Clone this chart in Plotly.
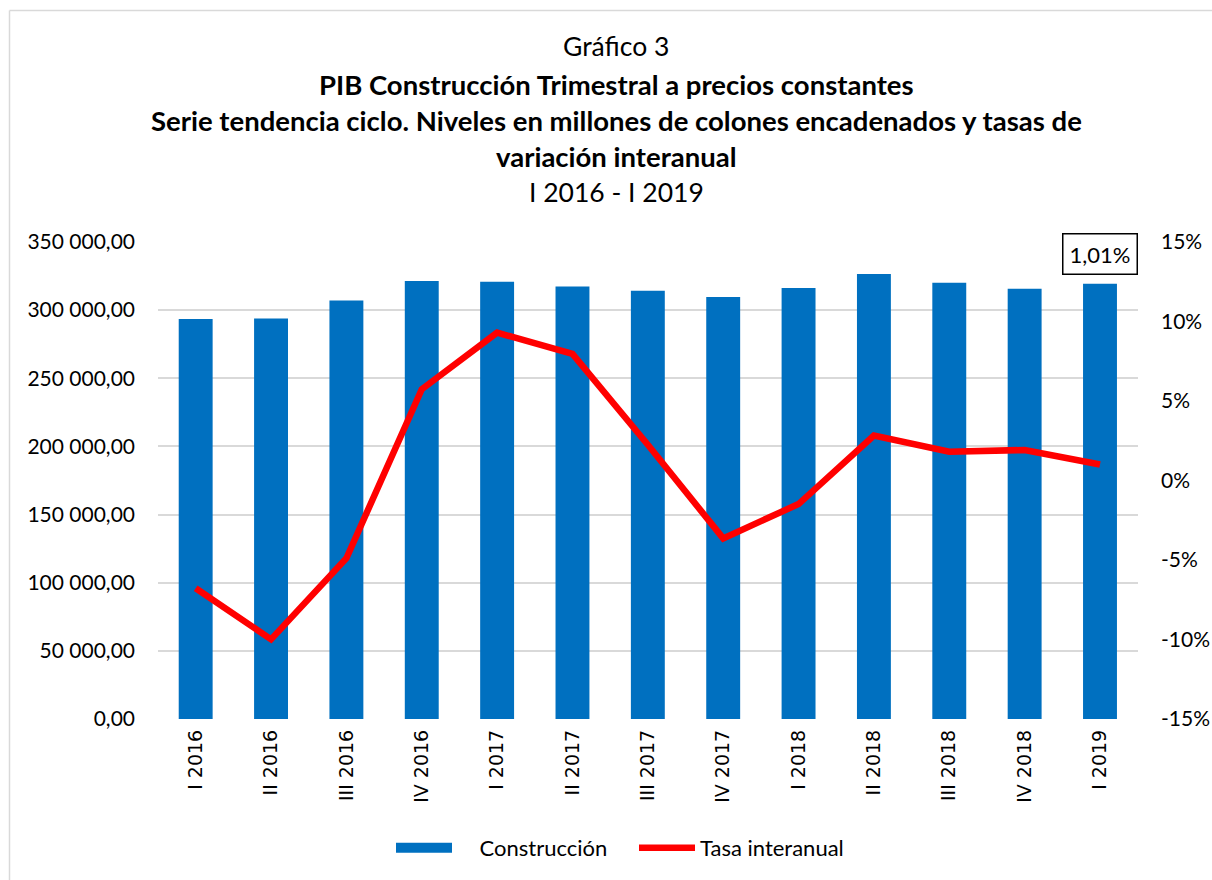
import plotly.graph_objects as go

categorias = ["I 2016", "II 2016", "III 2016", "IV 2016",
              "I 2017", "II 2017", "III 2017", "IV 2017",
              "I 2018", "II 2018", "III 2018", "IV 2018", "I 2019"]
construccion = [293500, 293950, 307150, 321400,
                320870, 317430, 314270, 309640,
                316250, 326520, 320140, 315730, 319400]
tasa_interanual = [-6.78, -9.99, -4.89, 5.74,
                   9.30, 7.96, 2.25, -3.64,
                   -1.48, 2.83, 1.81, 1.92, 1.01]
izq_ticks = [0, 50000, 100000, 150000, 200000, 250000, 300000, 350000]
der_ticks = [-15, -10, -5, 0, 5, 10, 15]
der_labels = ["-15%", "-10%", "-5%", "0%", "5%", "10%", "15%"]

titulo = [
    ("Gráfico 3", False),
    ("PIB Construcción Trimestral a precios constantes", True),
    ("Serie tendencia ciclo. Niveles en millones de colones encadenados y tasas de", True),
    ("variación interanual", True),
    ("I 2016 - I 2019", False),
]

W, H = 1212, 880
L, R, T, B = 158, 74, 242, 161
PW = W - L - R
PH = H - T - B
FONT = "Lato"
AZUL = "#0070C0"
ROJO = "#FF0000"

fig = go.Figure()
fig.add_trace(go.Bar(
    x=categorias, y=construccion, name="Construcción",
    marker=dict(color=AZUL, line=dict(width=0)),
    yaxis="y", showlegend=False, legendgroup="c",
))
# legend-only entry so the swatch is a wide rectangle like the reference
fig.add_trace(go.Scatter(
    x=[None], y=[None], name="\u00a0\u00a0\u00a0\u00a0Construcción",
    mode="lines", line=dict(color=AZUL, width=14),
    legendgroup="c", hoverinfo="skip",
))
fig.add_trace(go.Scatter(
    x=categorias, y=tasa_interanual, name="Tasa interanual",
    mode="lines", line=dict(color=ROJO, width=6.5),
    yaxis="y2",
))

title_y_px = [46, 84, 121, 157, 192]
ann = []
for (txt, bold), ypx in zip(titulo, title_y_px):
    ann.append(dict(
        text=f"<b>{txt}</b>" if bold else txt,
        xref="paper", yref="paper", x=(W / 2 + 10 - L) / PW,
        y=(H - B - ypx) / PH, xanchor="center", yanchor="middle",
        showarrow=False,
        font=dict(family=FONT, size=27.5 if bold else 26.5, color="#000000"),
    ))
ultimo = tasa_interanual[-1]
ann.append(dict(
    text=f"{ultimo:.2f}".replace(".", ",") + "%",
    x=categorias[-1], y=14.25, xref="x", yref="y2",
    showarrow=False, font=dict(family=FONT, size=22, color="#000000"),
    bordercolor="#000000", borderwidth=1.5, borderpad=6, bgcolor="#FFFFFF",
))

borde = dict(color="#D9D9D9", width=1.5)
fig.update_layout(
    width=W, height=H,
    margin=dict(l=L, r=R, t=T, b=B, autoexpand=False),
    paper_bgcolor="white", plot_bgcolor="white",
    separators=", ",
    font=dict(family=FONT, size=21, color="#000000"),
    bargap=0.55,
    showlegend=True,
    legend=dict(orientation="h", x=(391 - L) / PW, xanchor="left",
                y=(H - B - 848) / PH, yanchor="middle",
                font=dict(family=FONT, size=22),
                itemwidth=56, entrywidth=172, entrywidthmode="pixels",
                traceorder="normal"),
    xaxis=dict(type="category", tickangle=-90, showgrid=False,
               showline=False, ticks="", automargin=False,
               tickfont=dict(family="DejaVu Sans", size=19),
               ticklabelstandoff=6),
    yaxis=dict(range=[0, 350000], tickvals=izq_ticks, tickformat=",.2f",
               showgrid=True, gridcolor="#D9D9D9", gridwidth=1.5,
               zeroline=False, showline=False, ticks="", automargin=False,
               ticklabelstandoff=22,
               tickfont=dict(family=FONT, size=21)),
    yaxis2=dict(range=[-15, 15], tickvals=der_ticks, ticktext=der_labels,
                overlaying="y", side="right", showgrid=False,
                zeroline=False, showline=False, ticks="", automargin=False,
                ticklabelstandoff=22,
                tickfont=dict(family=FONT, size=21)),
    annotations=ann,
    shapes=[
        dict(type="line", xref="paper", yref="paper",
             x0=(9.5 - L) / PW, x1=(W + 5 - L) / PW,
             y0=(H - B - 10.5) / PH, y1=(H - B - 10.5) / PH, line=borde),
        dict(type="line", xref="paper", yref="paper",
             x0=(9.5 - L) / PW, x1=(9.5 - L) / PW,
             y0=(H - B - 10.5) / PH, y1=(H - B - (H + 5)) / PH, line=borde),
    ],
)

fig.write_html(
    "out.html",
    config={"displayModeBar": False},
    post_script=("document.body.style.margin='0';"
                 "document.body.style.overflow='hidden';"
                 "document.documentElement.style.overflow='hidden';"),
)
